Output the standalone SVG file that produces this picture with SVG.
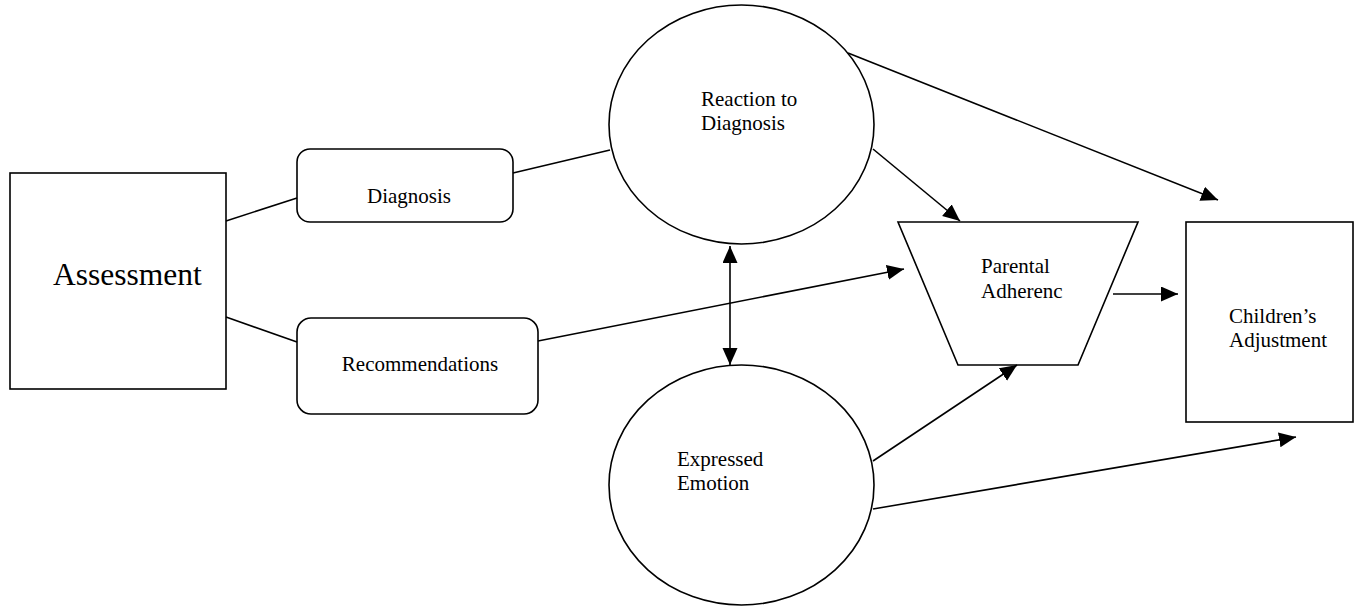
<svg xmlns="http://www.w3.org/2000/svg" width="1356" height="608" viewBox="0 0 1356 608">
<style>
.shape{fill:#fff;stroke:#000;stroke-width:1.6}
.conn line{stroke:#000;stroke-width:1.6;fill:none}
.arr{marker-end:url(#ah)}
text{font-family:"Liberation Serif","Times New Roman",serif;fill:#000;font-size:21px}
</style>
<defs>
<marker id="ah" markerUnits="userSpaceOnUse" markerWidth="18" markerHeight="16" refX="17" refY="7.5" orient="auto-start-reverse" viewBox="0 0 18 16">
<path d="M0,0 L17,7.5 L0,15 z" fill="#000"/>
</marker>
</defs>
<rect width="1356" height="608" fill="#fff"/>
<g id="assessment">
<rect class="shape" x="10" y="173" width="216" height="216"/>
<text x="53" y="285" style="font-size:31.5px">Assessment</text>
</g>
<g id="diagnosis">
<rect class="shape" x="297" y="149" width="216" height="73" rx="13"/>
<text x="409" y="203" text-anchor="middle">Diagnosis</text>
</g>
<g id="recommendations">
<rect class="shape" x="297" y="318" width="241" height="96" rx="14"/>
<text x="420" y="371" text-anchor="middle">Recommendations</text>
</g>
<g id="reaction">
<ellipse class="shape" cx="741.5" cy="124.5" rx="132.5" ry="119.5"/>
<text x="701" y="106">Reaction to</text>
<text x="701" y="130">Diagnosis</text>
</g>
<g id="emotion">
<ellipse class="shape" cx="741.5" cy="485" rx="132.5" ry="120"/>
<text x="677" y="466">Expressed</text>
<text x="677" y="490">Emotion</text>
</g>
<g id="adherence">
<polygon class="shape" points="898,222 1138,222 1078,365 958,365"/>
<text x="981" y="273">Parental</text>
<text x="981" y="298">Adherenc</text>
</g>
<g id="children">
<rect class="shape" x="1186" y="222" width="167" height="200"/>
<text x="1229" y="323">Children’s</text>
<text x="1229" y="347">Adjustment</text>
</g>
<g id="connectors" class="conn">
<line x1="226" y1="221" x2="297" y2="198"/>
<line x1="226" y1="317" x2="297" y2="342"/>
<line x1="513" y1="173" x2="610" y2="150"/>
<line class="arr" x1="538" y1="341" x2="904" y2="269"/>
<line class="arr" x1="848" y1="53" x2="1218" y2="200"/>
<line class="arr" x1="873" y1="149" x2="960" y2="221"/>
<line class="arr" style="marker-start:url(#ah)" x1="730" y1="246" x2="730" y2="365"/>
<line class="arr" x1="1113" y1="294" x2="1178" y2="294"/>
<line class="arr" x1="873" y1="461" x2="1017" y2="365"/>
<line class="arr" x1="873" y1="509" x2="1296" y2="437"/>
</g>
</svg>
